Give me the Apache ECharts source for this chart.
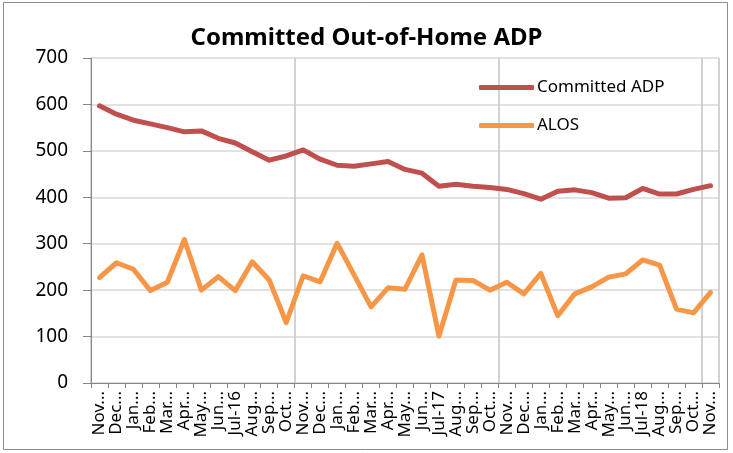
<!DOCTYPE html>
<html>
<head>
<meta charset="utf-8">
<script src="https://cdn.jsdelivr.net/npm/echarts@6/dist/echarts.min.js"></script>
<style>
  html, body { margin: 0; padding: 0; background: #fff; }
  #chart { width: 733px; height: 453px; }
</style>
</head>
<body>
<div id="chart"></div>
<script>
// months Nov-15 .. Nov-18, labels as they show (truncated) on the axis
var months = ['Nov...','Dec...','Jan...','Feb...','Mar...','Apr...','May...','Jun...','Jul-16','Aug...','Sep...','Oct...',
              'Nov...','Dec...','Jan...','Feb...','Mar...','Apr...','May...','Jun...','Jul-17','Aug...','Sep...','Oct...',
              'Nov...','Dec...','Jan...','Feb...','Mar...','Apr...','May...','Jun...','Jul-18','Aug...','Sep...','Oct...',
              'Nov...'];
var committedADP = [597,579,566,558,550,541,543,527,517,498,480,489,
                    502,482,469,467,472,477,460,452,424,428,424,421,
                    417,408,396,413,416,410,398,399,419,407,407,417,
                    425];
var alos = [227,259,245,199,217,309,200,229,199,261,222,130,
            231,218,301,233,164,205,202,276,101,222,221,200,
            217,192,236,145,192,207,228,235,265,254,159,151,
            195];
var yTicks = [0,100,200,300,400,500,600,700];

var myChart = echarts.init(document.getElementById('chart'));
var font = 'Noto Sans';
var option = {
    animation: false,
    backgroundColor: '#fff',
    title: {
        text: 'Committed Out-of-Home ADP',
        left: 'center',
        top: 21,
        textStyle: { fontFamily: font, fontWeight: 'bold', fontSize: 24, color: '#000' }
    },
    legend: {
        orient: 'vertical',
        left: 474,
        top: 74,
        itemWidth: 55,
        itemHeight: 5,
        itemGap: 21,
        icon: 'roundRect',
        textStyle: { fontFamily: font, fontSize: 17, color: '#000', padding: [0, 0, 0, -2] },
        data: ['Committed ADP', 'ALOS']
    },
    grid: {
        left: 91,
        right: 14,
        top: 58,
        bottom: 70
    },
    xAxis: {
        type: 'category',
        data: months,
        boundaryGap: true,
        axisLine: { lineStyle: { color: '#868686', width: 1 } },
        axisTick: { show: true, interval: 0, length: 5, lineStyle: { color: '#868686' } },
        splitLine: { show: true, interval: 11, lineStyle: { color: '#c4c4c4', width: 1.5 } },
        axisLabel: {
            interval: 0,
            rotate: 90,
            margin: 8,
            fontFamily: font,
            fontSize: 17,
            color: '#000'
        }
    },
    yAxis: {
        type: 'value',
        min: yTicks[0],
        max: yTicks[yTicks.length - 1],
        interval: 100,
        axisLine: { show: true, lineStyle: { color: '#868686', width: 1 } },
        axisTick: { show: true, length: 8, lineStyle: { color: '#868686' } },
        splitLine: { show: true, lineStyle: { color: '#d9d9d9', width: 1.5 } },
        axisLabel: { margin: 23, fontFamily: font, fontSize: 19, color: '#000' }
    },
    graphic: [{
        type: 'rect',
        shape: { x: 3.5, y: 2.5, width: 724, height: 447 },
        style: { fill: 'none', stroke: '#8c8c8c', lineWidth: 1 },
        silent: true
    }],
    series: [
        {
            name: 'Committed ADP',
            type: 'line',
            data: committedADP,
            symbol: 'none',
            color: '#c0504d',
            lineStyle: { color: '#c0504d', width: 5, cap: 'round', join: 'round' }
        },
        {
            name: 'ALOS',
            type: 'line',
            data: alos,
            symbol: 'none',
            color: '#f79646',
            lineStyle: { color: '#f79646', width: 5, cap: 'round', join: 'round' }
        }
    ]
};
myChart.setOption(option);
</script>
</body>
</html>
